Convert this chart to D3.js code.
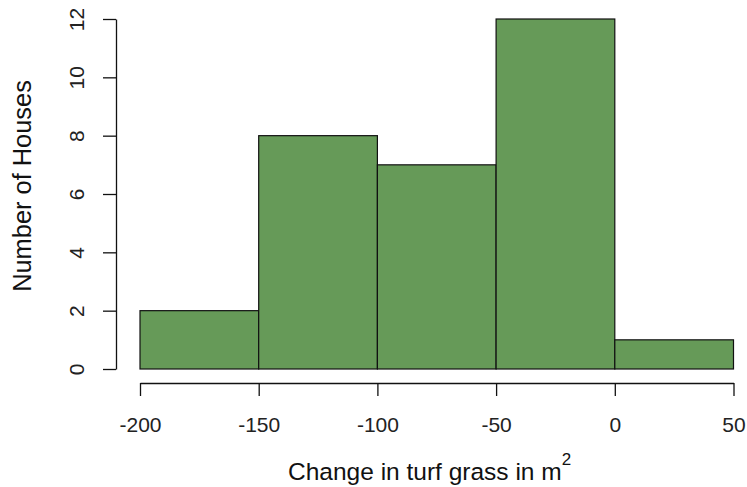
<!DOCTYPE html>
<html>
<head>
<meta charset="utf-8">
<script src="https://cdn.jsdelivr.net/npm/d3@7"></script>
<style>
  body { margin: 0; background: #fff; }
  svg { font-family: "Liberation Sans", Arial, sans-serif; }
</style>
</head>
<body>
<svg id="drawing_region"></svg>
<script>
// histogram bins (change in turf grass, m^2) and counts
const binStarts = [-200, -150, -100, -50, 0];
const binEnds   = [-150, -100, -50, 0, 50];
const counts    = [2, 8, 7, 12, 1];
const xTicks    = [-200, -150, -100, -50, 0, 50];
const yTicks    = [0, 2, 4, 6, 8, 10, 12];

const width = 747, height = 487;

const svg = d3.select('#drawing_region')
    .attr('width', width)
    .attr('height', height);

const xscale = d3.scaleLinear().domain([-200, 50]).range([140, 733.5]);
const yscale = d3.scaleLinear().domain([0, 12]).range([369, 19]);

const bins = binStarts.map((s, i) => ({ x0: s, x1: binEnds[i], n: counts[i] }));

svg.append('g').selectAll('rect')
    .data(bins)
    .enter()
    .append('rect')
    .attr('x', d => xscale(d.x0))
    .attr('y', d => yscale(d.n))
    .attr('width', d => xscale(d.x1) - xscale(d.x0))
    .attr('height', d => yscale(0) - yscale(d.n))
    .attr('fill', '#669a58')
    .attr('stroke', '#111')
    .attr('stroke-width', 1.2);

// x axis, R style
const xaxis = d3.axisBottom(xscale).tickValues(xTicks).tickSize(13).tickSizeOuter(0).tickPadding(0);
const xg = svg.append('g')
    .attr('transform', 'translate(0, 383)')
    .call(xaxis);
xg.selectAll('text')
    .attr('y', 49)
    .attr('dy', null)
    .attr('font-size', '21px')
    .attr('fill', '#222')
    .text(d => d);

// y axis, labels rotated like R default
const yaxis = d3.axisLeft(yscale).tickValues(yTicks).tickSize(13).tickSizeOuter(0);
const yg = svg.append('g')
    .attr('transform', 'translate(116, 0)')
    .call(yaxis);
yg.selectAll('text')
    .attr('x', 0)
    .attr('dy', null)
    .attr('text-anchor', 'middle')
    .attr('transform', 'translate(-32, 0) rotate(-90)')
    .attr('font-size', '21px')
    .attr('fill', '#222');

svg.selectAll('.domain, .tick line')
    .attr('stroke', '#111')
    .attr('stroke-width', 1.3);

// axis titles
const xlabel = svg.append('text')
    .attr('x', 288)
    .attr('y', 480)
    .attr('font-size', '24.5px')
    .attr('fill', '#111')
    .text('Change in turf grass in m');
xlabel.append('tspan')
    .attr('font-size', '17px')
    .attr('dy', -15)
    .text('2');

svg.append('text')
    .attr('transform', 'translate(31, 186) rotate(-90)')
    .attr('text-anchor', 'middle')
    .attr('font-size', '25.4px')
    .attr('fill', '#111')
    .text('Number of Houses');
</script>
</body>
</html>
